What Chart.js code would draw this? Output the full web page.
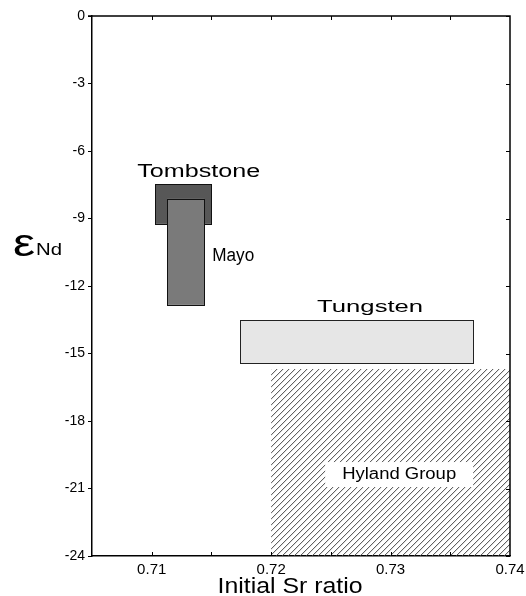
<!DOCTYPE html>
<html>
<head>
<meta charset="utf-8">
<script src="https://cdn.jsdelivr.net/npm/chart.js@4.4.1/dist/chart.umd.min.js"></script>
<style>
  html, body { margin: 0; padding: 0; background: #fff; }
  #wrap { width: 526px; height: 596px; }
</style>
</head>
<body>
<div id="wrap"><canvas id="c" width="526" height="596"></canvas></div>
<script>
// Source fields: initial 87Sr/86Sr ratio (x) against epsilon Nd (y)
const regionNames = ['Hyland Group', 'Tungsten', 'Tombstone', 'Mayo'];
const srMin    = [0.7200, 0.7174, 0.7103, 0.7113];
const srMax    = [0.7400, 0.7369, 0.7150, 0.7144];
const ndTop    = [-15.69, -13.52, -7.48, -8.12];
const ndBottom = [-24.00, -15.42, -9.24, -12.84];

// Axis ticks
const xTickValues = [0.71, 0.72, 0.73, 0.74];
const xMinorTicks = [0.71, 0.715, 0.72, 0.725, 0.73, 0.735];
const yTickValues = [0, -3, -6, -9, -12, -15, -18, -21, -24];

// Drawing style for each field and where its name sits (data coordinates)
const regionStyle = {
  'Hyland Group': { fill: 'hatch', border: null, label: { x: 0.73072, y: -20.58, align: 'center', size: 16, width: 114, box: true } },
  'Tungsten':     { fill: '#e6e6e6', border: '#222', label: { x: 0.72385, y: -13.16, align: 'left', size: 16, width: 106 } },
  'Tombstone':    { fill: '#575757', border: '#111', label: { x: 0.70879, y: -7.156, align: 'left', size: 18, width: 123 } },
  'Mayo':         { fill: '#7a7a7a', border: '#111', label: { x: 0.71507, y: -10.89, align: 'left', size: 18, width: 42 } }
};

const FONT = '"Liberation Sans", Arial, Helvetica, sans-serif';

function stretchedText(ctx, text, x, y, size, width, align) {
  ctx.save();
  ctx.font = size + 'px ' + FONT;
  ctx.textBaseline = 'alphabetic';
  ctx.textAlign = 'left';
  const natural = ctx.measureText(text).width;
  const k = width / natural;
  const left = align === 'center' ? x - width / 2 : x;
  ctx.translate(left, y);
  ctx.scale(k, 1);
  ctx.fillStyle = '#000';
  ctx.fillText(text, 0, 0);
  ctx.restore();
}

const fieldsPlugin = {
  id: 'fields',
  beforeDatasetsDraw(chart) {
    const ctx = chart.ctx;
    const xs = chart.scales.x, ys = chart.scales.y;
    regionNames.forEach((name, i) => {
      const st = regionStyle[name];
      const x0 = xs.getPixelForValue(srMin[i]);
      const x1 = xs.getPixelForValue(srMax[i]);
      const y0 = ys.getPixelForValue(ndTop[i]);
      const y1 = ys.getPixelForValue(ndBottom[i]);
      ctx.save();
      if (st.fill === 'hatch') {
        ctx.beginPath();
        ctx.rect(x0, y0, x1 - x0, y1 - y0);
        ctx.clip();
        ctx.strokeStyle = '#444';
        ctx.lineWidth = 1;
        const h = y1 - y0;
        for (let s = x0 - h; s < x1 + 6; s += 6) {
          ctx.beginPath();
          ctx.moveTo(s, y1);
          ctx.lineTo(s + h, y0);
          ctx.stroke();
        }
      } else {
        ctx.fillStyle = st.fill;
        ctx.fillRect(x0, y0, x1 - x0, y1 - y0);
        ctx.strokeStyle = st.border;
        ctx.lineWidth = 1;
        ctx.strokeRect(Math.round(x0) + 0.5, Math.round(y0) + 0.5, Math.round(x1 - x0), Math.round(y1 - y0));
      }
      ctx.restore();
    });
    // field names
    regionNames.forEach((name) => {
      const lb = regionStyle[name].label;
      const px = xs.getPixelForValue(lb.x);
      const py = ys.getPixelForValue(lb.y);
      if (lb.box) {
        ctx.save();
        ctx.fillStyle = '#fff';
        const cx = lb.align === 'center' ? px : px + lb.width / 2;
        ctx.fillRect(cx - 74, py - 17, 148, 25);
        ctx.restore();
      }
      stretchedText(ctx, name, px, py, lb.size, lb.width, lb.align);
    });
  },
  afterDraw(chart) {
    const ctx = chart.ctx;
    const a = chart.chartArea;
    const xs = chart.scales.x, ys = chart.scales.y;
    ctx.save();
    ctx.strokeStyle = '#000';
    ctx.lineWidth = 1.5;
    // top and right frame lines
    ctx.beginPath();
    ctx.moveTo(a.left - 4, a.top);
    ctx.lineTo(a.right, a.top);
    ctx.lineTo(a.right, a.bottom);
    ctx.stroke();
    // inward ticks on top, bottom and right
    ctx.lineWidth = 1;
    xMinorTicks.forEach(v => {
      const px = Math.round(xs.getPixelForValue(v)) + 0.5;
      ctx.beginPath();
      ctx.moveTo(px, a.top); ctx.lineTo(px, a.top + 4);
      ctx.moveTo(px, a.bottom); ctx.lineTo(px, a.bottom - 4);
      ctx.stroke();
    });
    yTickValues.forEach(v => {
      const py = Math.round(ys.getPixelForValue(v)) + 0.5;
      ctx.beginPath();
      ctx.moveTo(a.right, py); ctx.lineTo(a.right - 4, py);
      ctx.stroke();
    });
    // axis titles
    stretchedText(ctx, '\u03B5', 13, 256, 38, 22, 'left');
    stretchedText(ctx, 'Nd', 36, 255, 17, 26, 'left');
    stretchedText(ctx, 'Initial Sr ratio', 290, 593, 22, 145, 'center');
    ctx.restore();
  }
};

new Chart(document.getElementById('c'), {
  type: 'scatter',
  data: { datasets: [{ data: [], showLine: false }] },
  options: {
    responsive: false,
    animation: false,
    devicePixelRatio: 1,
    layout: { padding: { top: 16, right: 16, left: 0, bottom: 0 } },
    plugins: { legend: { display: false }, tooltip: { enabled: false } },
    scales: {
      x: {
        type: 'linear',
        min: 0.705,
        max: 0.74,
        afterBuildTicks: s => { s.ticks = xTickValues.map(v => ({ value: v })); },
        afterFit: s => { s.height = 40; s.paddingLeft = 0; s.paddingRight = 0; },
        ticks: {
          color: '#000',
          font: { family: FONT, size: 15 },
          padding: 5,
          maxRotation: 0,
          callback: v => v.toFixed(2)
        },
        grid: { drawOnChartArea: false, drawTicks: false },
        border: { color: '#000', width: 1.5 }
      },
      y: {
        type: 'linear',
        min: -24,
        max: 0,
        afterBuildTicks: s => { s.ticks = yTickValues.map(v => ({ value: v })); },
        afterFit: s => { s.width = 92; s.paddingTop = 0; s.paddingBottom = 0; },
        ticks: {
          color: '#000',
          font: { family: FONT, size: 14 },
          padding: 3,
          callback: v => String(v)
        },
        grid: { drawOnChartArea: false, drawTicks: true, tickLength: 4, color: '#000' },
        border: { color: '#000', width: 1.5 }
      }
    }
  },
  plugins: [fieldsPlugin]
});
</script>
</body>
</html>
